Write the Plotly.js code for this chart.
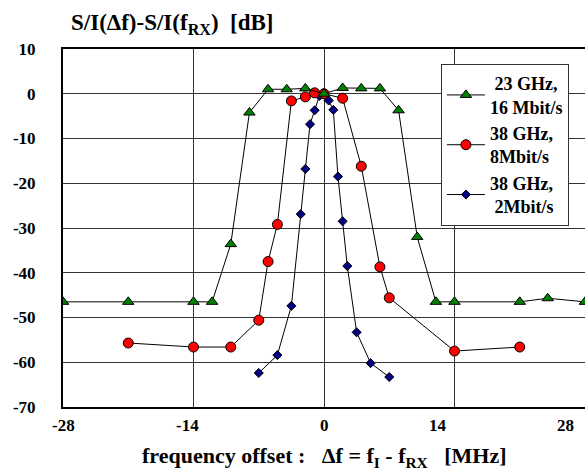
<!DOCTYPE html>
<html>
<head>
<meta charset="utf-8">
<script src="https://cdn.plot.ly/plotly-3.0.1.min.js"></script>
<style>html,body{margin:0;padding:0;background:#fff;}</style>
</head>
<body>
<div id="chart" style="width:585px;height:472px"></div>
<script>
// Data
const names = ["&#160;23 GHz,<br>16 Mbit/s", "38 GHz,<br>8Mbit/s", "38 GHz,<br>&#160;2Mbit/s"];

const g23_x = [-28, -21, -14, -12, -10, -8, -6, -4, -2, 0, 2, 4, 6, 8, 10, 12, 14, 21, 24, 28];
const g23_y = [-46.5, -46.5, -46.5, -46.5, -33.6, -4.2, 1.0, 1.0, 1.2, 0, 1.3, 1.2, 1.2, -3.7, -32, -46.5, -46.5, -46.5, -45.7, -46.5];

const r38_x = [-21, -14, -10, -7, -6, -5, -3.5, -2, -1, 0, 2, 4, 6, 7, 14, 21];
const r38_y = [-55.7, -56.6, -56.6, -50.6, -37.5, -29.2, -1.6, -0.7, 0.2, 0, -1.0, -16.2, -38.7, -45.6, -57.5, -56.6];

const n38_x = [-7, -5, -3.5, -2.5, -2, -1.5, -1, -0.5, 0, 0.5, 1, 1.5, 2, 2.5, 3.5, 5, 7];
const n38_y = [-62.4, -58.4, -47.4, -26.9, -16.8, -6.8, -3.7, -0.5, 0, -1.5, -3.6, -18.5, -28.5, -38.5, -53.3, -60.2, -63.3];

const xTickVals = [-28, -14, 0, 14, 28];
const xTickText = ["-28", "-14", "0", "14", "28"];
const yTickVals = [10, 0, -10, -20, -30, -40, -50, -60, -70];

// styling
const SERIF = "Liberation Serif";
const xLabelShift = [0, -6, 0, -17, -20];

const lineStyle = {color: "#000", width: 1};
const traces = [
  {x: n38_x, y: n38_y, name: names[2], type: "scatter", mode: "lines+markers", line: lineStyle,
   marker: {symbol: "diamond", size: 7, color: "#000080", line: {color: "#000", width: 1}}},
  {x: r38_x, y: r38_y, name: names[1], type: "scatter", mode: "lines+markers", line: lineStyle,
   marker: {symbol: "circle", size: 10, color: "#FF0000", line: {color: "#000", width: 1}}},
  {x: g23_x, y: g23_y, name: names[0], type: "scatter", mode: "lines+markers", line: lineStyle,
   marker: {symbol: "triangle-up", size: 10, color: "#008000", line: {color: "#000", width: 1}}}
];

const annos = xTickVals.map((v, i) => ({
  x: v, xref: "x", y: 0, yref: "paper", text: "<b>" + xTickText[i] + "</b>", showarrow: false,
  xanchor: "center", yanchor: "middle", xshift: xLabelShift[i], yshift: -18,
  font: {family: SERIF, size: 17, color: "#000"}
}));
annos.push({
  x: 0.5, xref: "paper", y: -0.14, yref: "paper", xanchor: "center", yanchor: "middle",
  text: "<b>frequency offset :   \u0394f = f<sub>I</sub> - f<sub>RX</sub>   [MHz]</b>", showarrow: false,
  font: {family: SERIF, size: 22, color: "#000"}
});
annos.push({
  x: 0.0115, xref: "paper", y: 1.07, yref: "paper", xanchor: "left", yanchor: "middle",
  text: "<b>S/I(\u0394f)-S/I(f<sub>RX</sub>)  [dB]</b>", showarrow: false,
  font: {family: SERIF, size: 23, color: "#000"}
});

const layout = {
  width: 585, height: 472,
  font: {family: SERIF, color: "#000"},
  margin: {l: 63, r: 0, t: 49, b: 65, pad: 0},
  paper_bgcolor: "#fff", plot_bgcolor: "#fff",
  showlegend: true,
  legend: {
    x: 0.724, y: 0.958, xanchor: "left", yanchor: "top",
    traceorder: "reversed",
    bgcolor: "#fff", bordercolor: "#333", borderwidth: 1,
    itemwidth: 38,
    font: {family: SERIF, size: 18, color: "#000"}
  },
  xaxis: {
    range: [-28, 28], tickvals: xTickVals, showticklabels: false,
    showgrid: true, gridcolor: "#333", gridwidth: 1, zeroline: false,
    showline: true, linecolor: "#000", linewidth: 2, mirror: true, ticks: ""
  },
  yaxis: {
    range: [-70, 10], tickvals: yTickVals, ticktext: yTickVals.map(v => "<b>" + v + "</b>"),
    showgrid: true, gridcolor: "#333", gridwidth: 1, zeroline: false,
    showline: true, linecolor: "#000", linewidth: 2, mirror: true, ticks: "",
    ticklabelstandoff: 22,
    tickfont: {family: SERIF, size: 17, color: "#000"}
  },
  annotations: annos
};

traces.forEach(t => { t.name = "<b>" + t.name + "</b>"; });

Plotly.newPlot("chart", traces, layout, {displayModeBar: false});
</script>
</body>
</html>
